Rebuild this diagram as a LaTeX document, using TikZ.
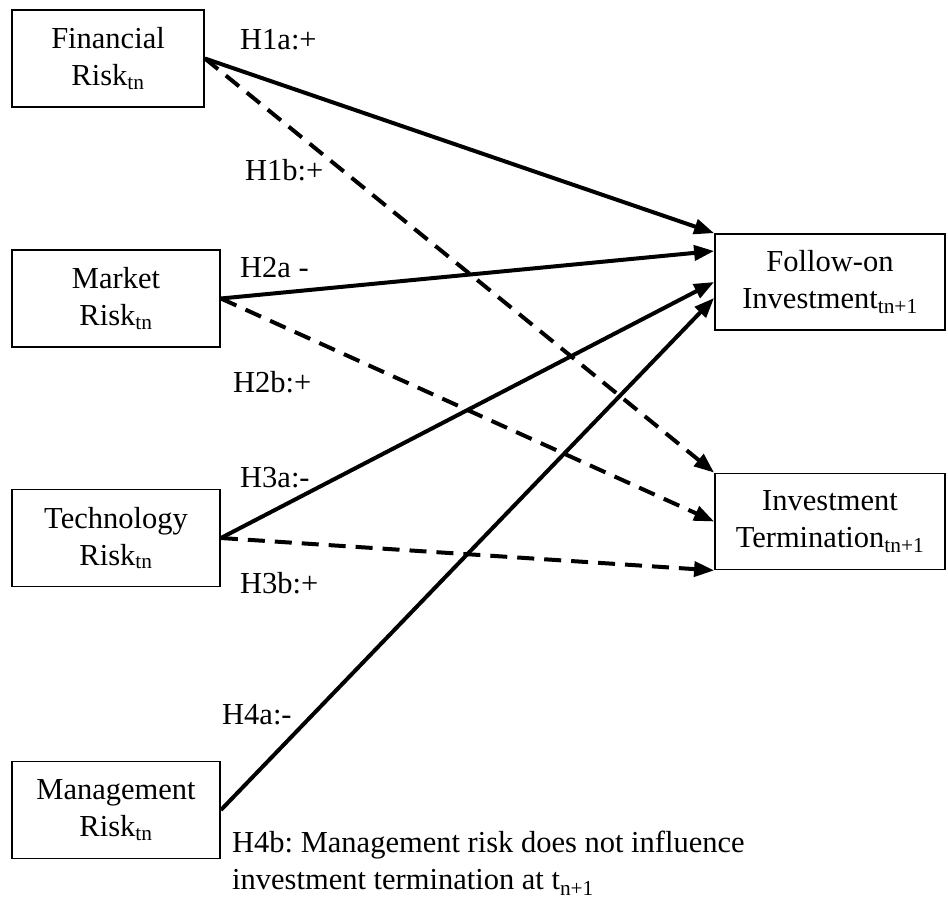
\documentclass[tikz,border=0pt]{standalone}
\usepackage{fontspec}
\setmainfont{Liberation Serif}
\usetikzlibrary{arrows.meta}
\frenchspacing

\tikzset{
  riskbox/.style={draw, line width=1.8pt, align=center, inner sep=0pt,
    minimum width=208pt, minimum height=97pt},
  outbox/.style={draw, line width=1.8pt, align=center, inner sep=0pt,
    minimum width=230pt, minimum height=96pt},
  hyp/.style={anchor=west, inner sep=0pt},
  effect/.style={line width=4pt, -{Triangle[length=20pt,width=15pt]}},
  noeffect/.style={effect, dash pattern=on 17pt off 10pt}
}

\begin{document}
\begin{tikzpicture}[x=1pt,y=-1pt,font=\fontsize{30.5}{37}\selectfont]
\useasboundingbox (0,0) rectangle (948,898);

% risk factors at t_n
\node[riskbox, minimum width=192pt] (fin) at (108,58.5) {Financial\\Risk\textsubscript{tn}};
\node[riskbox] (mar) at (116,298.5) {Market\\Risk\textsubscript{tn}};
\node[riskbox] (tec) at (116,538) {Technology\\Risk\textsubscript{tn}};
\node[riskbox] (man) at (116,810) {Management\\Risk\textsubscript{tn}};

% outcomes at t_n+1
\node[outbox] (fol) at (830,282) {Follow-on\\Investment\textsubscript{tn+1}};
\node[outbox] (ter) at (830,521.5) {Investment\\Termination\textsubscript{tn+1}};

\draw[effect] (fin.east) -- (fol.north west);
\draw[noeffect] (fin.east) -- (ter.north west);
\draw[effect] (mar.east) -- ([yshift=31pt]fol.west);
\draw[noeffect] (mar.east) -- (ter.west);
\draw[effect] (tec.east) -- (fol.west);
\draw[noeffect] (tec.east) -- (ter.south west);
\draw[effect] (man.east) -- ([yshift=-16pt]fol.west);

\node[hyp] (h1a) at (240,40) {H1a:+};
\node[hyp] (h1b) at (245,170) {H1b:+};
\node[hyp] (h2a) at (240,268) {H2a -};
\node[hyp] (h2b) at (233,382) {H2b:+};
\node[hyp] (h3a) at (240,478) {H3a:-};
\node[hyp] (h3b) at (240,583) {H3b:+};
\node[hyp] (h4a) at (222,715) {H4a:-};
\node[hyp, anchor=north west, align=left] (h4b) at (232,831)
  {H4b: Management risk does not influence\\investment termination at t\textsubscript{n+1}};
\end{tikzpicture}
\end{document}
